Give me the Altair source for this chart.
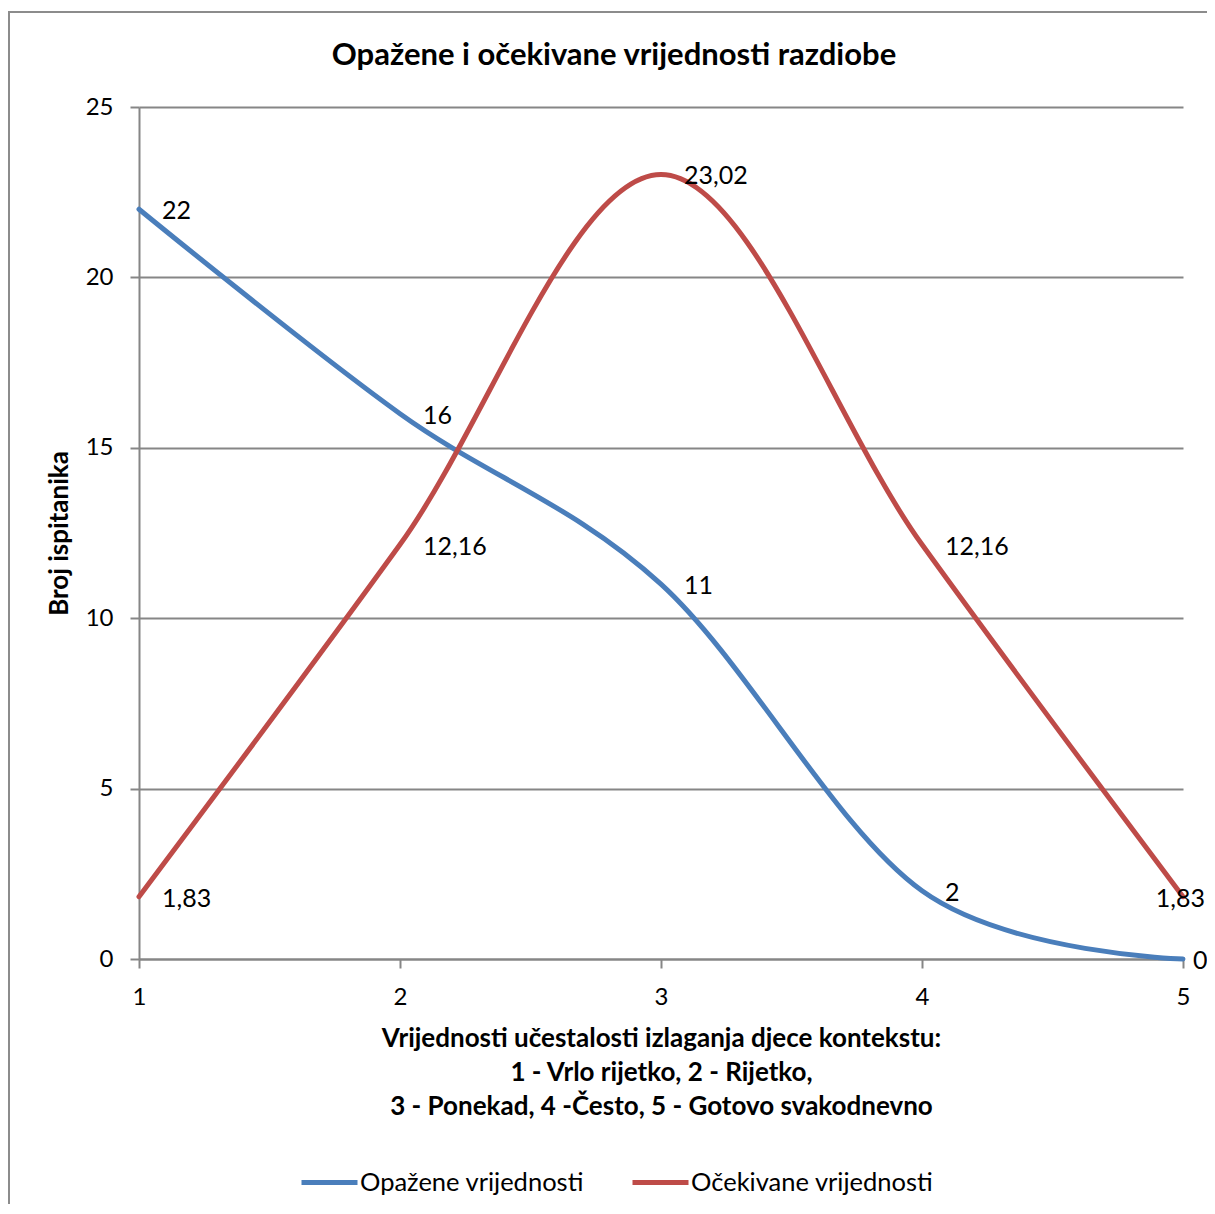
import altair as alt
import pandas as pd

categories = [1, 2, 3, 4, 5]
observed = [22, 16, 11, 2, 0]
expected = [1.83, 12.16, 23.02, 12.16, 1.83]
series_names = ["Opažene vrijednosti", "Očekivane vrijednosti"]
series_colors = ["#4A7EBB", "#BE4B48"]
y_ticks = [0, 5, 10, 15, 20, 25]
title_text = "Opažene i očekivane vrijednosti razdiobe"
x_title = [
    "Vrijednosti učestalosti izlaganja djece kontekstu:",
    "1 - Vrlo rijetko, 2 - Rijetko,",
    "3 - Ponekad, 4 -Često, 5 - Gotovo svakodnevno",
]
y_title = "Broj ispitanika"

rows = []
for name, vals in zip(series_names, [observed, expected]):
    for xv, yv in zip(categories, vals):
        rows.append({"x": xv, "y": yv, "serie": name,
                     "label": f"{yv:g}".replace(".", ",")})
df = pd.DataFrame(rows)

FONT = "Lato"
W, H = 1044, 852

color = alt.Color("serie:N",
                  scale=alt.Scale(domain=series_names, range=series_colors),
                  legend=alt.Legend(title=None, orient="none", direction="horizontal",
                                    legendX=160, legendY=1045,
                                    symbolType="stroke", symbolSize=3136,
                                    symbolStrokeWidth=5, labelFontSize=25.5,
                                    labelFont=FONT, labelColor="black",
                                    labelLimit=500,
                                    labelOffset=0, columnPadding=38,
                                    symbolOffset=0))

xenc = alt.X("x:Q", scale=alt.Scale(domain=[1, 5], nice=False),
             axis=alt.Axis(values=categories, format="d", title=x_title,
                           titleFontSize=26, titleFont=FONT, titleFontWeight="bold",
                           titleLineHeight=34, titlePadding=16, titleColor="black",
                           labelFontSize=24, labelFont=FONT, labelColor="black",
                           labelFlush=False,
                           labelPadding=17, tickSize=9, grid=False))
yenc = alt.Y("y:Q", scale=alt.Scale(domain=[0, 25], nice=False),
             axis=alt.Axis(values=y_ticks, title=y_title,
                           titleFontSize=26, titleFont=FONT, titleFontWeight="bold",
                           titlePadding=13, titleColor="black",
                           labelFontSize=24, labelFont=FONT, labelColor="black",
                           labelFlush=False,
                           labelPadding=17, tickSize=9, grid=True))

base = alt.Chart(df)
one = alt.Chart(pd.DataFrame({"a": [0]}))

border = one.mark_rect(
    fill=None, stroke="#8C8C8C", strokeWidth=2, clip=False
).encode(x=alt.value(-130), x2=alt.value(W + 200), y=alt.value(-95), y2=alt.value(H + 400))

title = one.mark_text(
    text=title_text, font=FONT, fontSize=31, fontWeight="bold", color="black",
    align="center", baseline="middle", clip=False
).encode(x=alt.value(W / 2 - 47), y=alt.value(-51))

line_obs = base.transform_filter(alt.datum.serie == series_names[0]).mark_line(
    interpolate="cardinal", tension=0, strokeWidth=5, strokeCap="round"
).encode(x=xenc, y=yenc, color=color)
line_exp = base.transform_filter(alt.datum.serie == series_names[1]).mark_line(
    interpolate="cardinal", tension=0, strokeWidth=5, strokeCap="round"
).encode(x=xenc, y=yenc, color=color)

txt_kw = dict(fontSize=25, font=FONT, color="black", baseline="middle", dy=2)
labels_main = base.transform_filter(alt.datum.x < 5).mark_text(
    align="left", dx=23, **txt_kw).encode(x="x:Q", y="y:Q", text="label:N")
labels_obs_end = base.transform_filter(
    (alt.datum.x == 5) & (alt.datum.serie == series_names[0])).mark_text(
    align="left", dx=10, **txt_kw).encode(x="x:Q", y="y:Q", text="label:N")
labels_exp_end = base.transform_filter(
    (alt.datum.x == 5) & (alt.datum.serie == series_names[1])).mark_text(
    align="right", dx=22, **txt_kw).encode(x="x:Q", y="y:Q", text="label:N")

chart = alt.layer(border, title, line_obs, line_exp, labels_main, labels_obs_end, labels_exp_end).properties(
    width=W, height=H,
    padding={"left": 131, "top": 99, "right": 24, "bottom": 245},
    autosize=alt.AutoSizeParams(type="none"),
).configure(background="white").configure_view(stroke=None).configure_axis(
    domainColor="#868686", tickColor="#868686", gridColor="#868686",
    domainWidth=2, tickWidth=2, gridWidth=2
)

chart.save("out.html", embed_options={"renderer": "svg", "actions": False})
